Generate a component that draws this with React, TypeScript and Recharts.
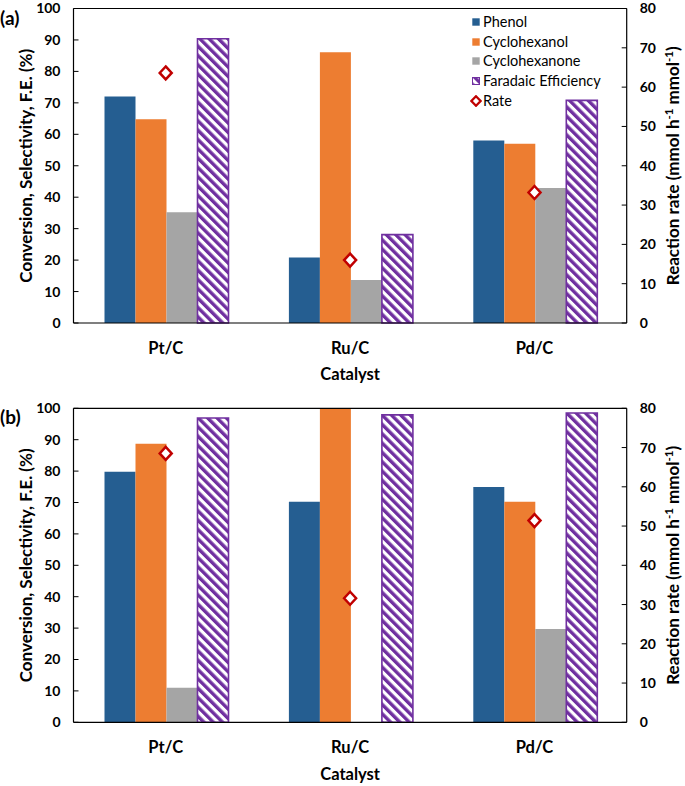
import React from 'react';
import {
  ComposedChart,
  Bar,
  Line,
  XAxis,
  YAxis,
  Legend,
  ReferenceLine,
} from 'recharts';

// category labels
const catalysts = ['Pt/C', 'Ru/C', 'Pd/C'];

// panel (a)
const phenolA = [72, 20.8, 58];
const cyclohexanolA = [64.8, 86.1, 57];
const cyclohexanoneA = [35.2, 13.7, 42.9];
const faradaicA = [90.4, 28.1, 70.8];
const rateA = [63.6, 16, 33.2];

// panel (b)
const phenolB = [79.8, 70.2, 74.9];
const cyclohexanolB = [88.7, 100, 70.2];
const cyclohexanoneB = [11, 0, 29.7];
const faradaicB = [96.9, 97.9, 98.5];
const rateB = [68.5, 31.6, 51.4];

const leftTicks = [0, 10, 20, 30, 40, 50, 60, 70, 80, 90, 100];
const rightTicks = [0, 10, 20, 30, 40, 50, 60, 70, 80];

const FONT = 'Lato, "Open Sans", sans-serif';
const BLUE = '#255E91';
const ORANGE = '#ED7D31';
const GREY = '#A5A5A5';
const PURPLE = '#7030A0';
const RED = '#C00000';

const tickStyle = { fill: '#000', fontSize: 14, fontWeight: 700, fontFamily: FONT };

const buildRows = (
  phenol: number[],
  cyclohexanol: number[],
  cyclohexanone: number[],
  faradaic: number[],
  rate: number[]
) =>
  catalysts.map((cat, i) => ({
    cat,
    phenol: phenol[i],
    cyclohexanol: cyclohexanol[i],
    cyclohexanone: cyclohexanone[i],
    faradaic: faradaic[i],
    rate: rate[i],
  }));

const Diamond = (props: any) => {
  const { cx, cy, index } = props;
  if (cx == null || cy == null) return <g key={index} />;
  return (
    <path
      key={index}
      d={`M${cx},${cy - 6.5} L${cx + 6},${cy} L${cx},${cy + 6.5} L${cx - 6},${cy} Z`}
      fill="#fff"
      stroke={RED}
      strokeWidth={2.5}
    />
  );
};

const LegendBox = ({ patternId }: { patternId: string }) => {
  const rows = [
    { name: 'Phenol', icon: <rect x={2.3} y={2.3} width={7.4} height={7.4} fill={BLUE} /> },
    { name: 'Cyclohexanol', icon: <rect x={2.3} y={2.3} width={7.4} height={7.4} fill={ORANGE} /> },
    { name: 'Cyclohexanone', icon: <rect x={2.3} y={2.3} width={7.4} height={7.4} fill={GREY} /> },
    {
      name: 'Faradaic Efficiency',
      icon: (
        <rect x={2.5} y={2.5} width={7} height={7} fill={`url(#${patternId})`} stroke={PURPLE} strokeWidth={1} />
      ),
    },
    {
      name: 'Rate',
      icon: <path d="M6,1.2 L10.6,6 L6,10.8 L1.4,6 Z" fill="#fff" stroke={RED} strokeWidth={2.2} />,
    },
  ];
  return (
    <div style={{ fontFamily: FONT, fontSize: 14.5, color: '#000', lineHeight: '19.7px' }}>
      {rows.map((r) => (
        <div key={r.name} style={{ display: 'flex', alignItems: 'center', height: 19.7 }}>
          <svg width={12} height={12} style={{ marginRight: 1 }}>
            {r.icon}
          </svg>
          <span>{r.name}</span>
        </div>
      ))}
    </div>
  );
};

interface PanelProps {
  tag: string;
  height: number;
  top: number;
  axisHeight: number;
  titleOffset: number;
  tagY: number;
  data: ReturnType<typeof buildRows>;
  showLegend?: boolean;
}

const Panel = ({ tag, height, top, axisHeight, titleOffset, tagY, data, showLegend }: PanelProps) => {
  const patternId = `fe-stripes-${tag}`;
  const midY = (top + height - axisHeight) / 2;
  return (
    <ComposedChart
      width={685}
      height={height}
      data={data}
      margin={{ top, right: 0, bottom: 0, left: 0 }}
      barCategoryGap={31}
      barGap={0}
    >
      <defs>
        <pattern
          id={patternId}
          patternUnits="userSpaceOnUse"
          width={6.6}
          height={6.6}
          patternTransform="rotate(-45)"
        >
          <rect width={6.6} height={6.6} fill="#fff" />
          <rect width={3.4} height={6.6} fill={PURPLE} />
        </pattern>
      </defs>
      <XAxis
        dataKey="cat"
        height={axisHeight}
        tickLine={false}
        tickSize={0}
        tickMargin={19}
        axisLine={{ stroke: '#000', strokeWidth: 1.2 }}
        tick={{ fill: '#000', fontSize: 16.5, fontWeight: 700, fontFamily: FONT }}
        label={{
          value: 'Catalyst',
          position: 'insideBottom',
          offset: titleOffset,
          style: { fill: '#000', fontSize: 16.5, fontWeight: 700, fontFamily: FONT },
        }}
      />
      <YAxis
        yAxisId="left"
        width={73.5}
        domain={[0, 100]}
        ticks={leftTicks}
        interval={0}
        tickSize={-5}
        tickMargin={18}
        axisLine={{ stroke: '#000', strokeWidth: 1.2 }}
        tickLine={{ stroke: '#000' }}
        tick={tickStyle}
        label={() => (
          <g>
            <text
              x={0}
              y={tagY}
              dominantBaseline="central"
              fontSize={19}
              fontWeight={700}
              fontFamily={FONT}
              fill="#000"
            >
              ({tag})
            </text>
            <text
              x={32}
              y={midY}
              transform={`rotate(-90, 32, ${midY})`}
              textAnchor="middle"
              fontSize={17}
              fontWeight={700}
              fontFamily={FONT}
              fill="#000"
            >
              Conversion, Selectivity, F.E. (%)
            </text>
          </g>
        )}
      />
      <YAxis
        yAxisId="right"
        orientation="right"
        width={58.3}
        domain={[0, 80]}
        ticks={rightTicks}
        interval={0}
        tickSize={-5}
        tickMargin={18}
        axisLine={{ stroke: '#000', strokeWidth: 1.2 }}
        tickLine={{ stroke: '#000' }}
        tick={tickStyle}
        label={() => (
          <text
            x={679}
            y={midY}
            transform={`rotate(-90, 679, ${midY})`}
            textAnchor="middle"
            fontSize={17}
            fontWeight={700}
            fontFamily={FONT}
            fill="#000"
          >
            Reaction rate (mmol h
            <tspan dy={-6} fontSize={11.5}>-1</tspan>
            <tspan dy={6}> mmol</tspan>
            <tspan dy={-6} fontSize={11.5}>-1</tspan>
            <tspan dy={6}>)</tspan>
          </text>
        )}
      />
      <ReferenceLine yAxisId="left" y={100} stroke="#000" strokeWidth={1.2} />
      <Bar yAxisId="left" dataKey="phenol" name="Phenol" fill={BLUE} isAnimationActive={false} />
      <Bar yAxisId="left" dataKey="cyclohexanol" name="Cyclohexanol" fill={ORANGE} isAnimationActive={false} />
      <Bar yAxisId="left" dataKey="cyclohexanone" name="Cyclohexanone" fill={GREY} isAnimationActive={false} />
      <Bar
        yAxisId="left"
        dataKey="faradaic"
        name="Faradaic Efficiency"
        fill={`url(#${patternId})`}
        stroke={PURPLE}
        strokeWidth={1.6}
        isAnimationActive={false}
      />
      <Line
        yAxisId="right"
        dataKey="rate"
        name="Rate"
        stroke="none"
        dot={Diamond}
        activeDot={false}
        isAnimationActive={false}
      />
      {showLegend && (
        <Legend
          layout="vertical"
          align="center"
          verticalAlign="middle"
          wrapperStyle={{ left: 470, top: 12, width: 'auto' }}
          content={() => <LegendBox patternId={patternId} />}
        />
      )}
    </ComposedChart>
  );
};

export default function App() {
  const rowsA = buildRows(phenolA, cyclohexanolA, cyclohexanoneA, faradaicA, rateA);
  const rowsB = buildRows(phenolB, cyclohexanolB, cyclohexanoneB, faradaicB, rateB);
  return (
    <div style={{ position: 'absolute', left: 0, top: 0, width: 685, height: 786, background: '#fff' }}>
      <Panel tag="a" height={390} top={8.5} axisHeight={67} titleOffset={10} tagY={17} data={rowsA} showLegend />
      <Panel tag="b" height={396} top={18.3} axisHeight={63.7} titleOffset={6.4} tagY={26} data={rowsB} />
    </div>
  );
}
